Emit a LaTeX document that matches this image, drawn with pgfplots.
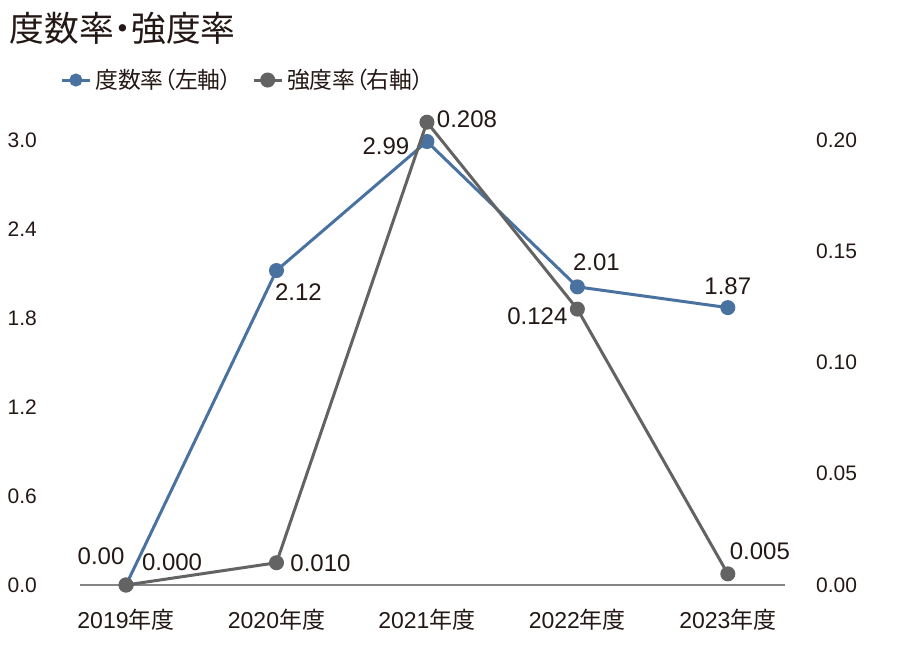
\documentclass[border=0pt]{standalone}
\usepackage{pgfplots}
\pgfplotsset{compat=1.18}
\usepackage{pgfplotstable}
\usepackage{fontspec}
\setmainfont{Liberation Sans}
\newfontfamily\jp{Noto Sans CJK JP}
\newfontfamily\jpp{Noto Sans CJK JP}[RawFeature=+palt]
\definecolor{cblue}{HTML}{4A72A0}
\definecolor{cgray}{HTML}{636363}
\definecolor{ctext}{HTML}{231815}
\definecolor{caxis}{HTML}{858585}

\pgfplotstableread{
x y lab dx dy
0 0.00 0.00 -12.5 14.5
1 2.12 2.12 11 -11
2 2.99 2.99 -20.5 -2.5
3 2.01 2.01 9.5 12.5
4 1.87 1.87 0 10.5
}\freq
\pgfplotstableread{
x y lab dx dy
0 0.000 0.000 23 11.5
1 0.010 0.010 22 0
2 0.208 0.208 20 1.5
3 0.124 0.124 -20 -3.5
4 0.005 0.005 16 11.5
}\sev

\pgfplotsset{
  base/.style={
    scale only axis, width=352.5pt, height=222.5pt,
    at={(40pt,32.5pt)}, anchor=south west,
    xmin=-0.306, xmax=4.38, clip=false,
    tick style={draw=none},
    ticklabel style={font=\fontsize{10.5}{12}\selectfont, text=ctext},
    /pgf/number format/assume math mode=true,
    point meta=explicit symbolic,
    nodes near coords,
    visualization depends on={\thisrow{dx}\as\dx},
    visualization depends on={\thisrow{dy}\as\dy},
    every node near coord/.append style={anchor=center, xshift=\dx pt, yshift=\dy pt,
      font=\fontsize{12}{14}\selectfont, text=ctext},
  },
}

\begin{document}
\begin{tikzpicture}
\useasboundingbox (0,0) rectangle (450pt,325pt);
\node[anchor=west, inner sep=0pt, text=ctext, font=\fontsize{17.4}{19}\selectfont] at (4.5pt,311pt) {\jpp 度数率・強度率};

\begin{axis}[base,
  ymin=0, ymax=3.0,
  separate axis lines,
  axis x line*=bottom, axis y line*=left,
  y axis line style={draw=none},
  x axis line style={draw=caxis, line width=1pt},
  xtick={0,1,2,3,4},
  xticklabels={2019{\jp 年度},2020{\jp 年度},2021{\jp 年度},2022{\jp 年度},2023{\jp 年度}},
  xticklabel style={anchor=center, yshift=-17.5pt, font=\fontsize{11.5}{13}\selectfont},
  ytick={0,0.6,1.2,1.8,2.4,3.0},
  yticklabel style={anchor=west, xshift=-39.7pt, /pgf/number format/.cd, fixed, fixed zerofill, precision=1},
]
\addplot[cblue, line width=1.5pt, mark=*, mark size=3pt] table[x=x, y=y, meta=lab] {\freq};
\end{axis}

\begin{axis}[base,
  ymin=0, ymax=0.20,
  axis x line=none,
  axis y line*=right,
  y axis line style={draw=none},
  ytick={0,0.05,0.10,0.15,0.20},
  yticklabel style={anchor=west, xshift=12pt, /pgf/number format/.cd, fixed, fixed zerofill, precision=2},
  legend columns=2,
  legend style={at={(-0.0284,1.1348)}, anchor=west, draw=none, fill=none, inner sep=0pt,
    font=\fontsize{11.4}{13}\selectfont\jpp, text=ctext,
    /tikz/every even column/.append style={column sep=8pt}},
  legend image code/.code={\draw[mark repeat=2, mark phase=2, #1] plot coordinates {(0pt,0pt) (7pt,0pt) (14pt,0pt)};},
]
\addlegendimage{cblue, line width=1.5pt, mark=*, mark size=2.5pt}
\addlegendentry{度数率（左軸）}
\addplot[cgray, line width=1.5pt, mark=*, mark size=3pt] table[x=x, y=y, meta=lab] {\sev};
\addlegendentry{強度率（右軸）}
\end{axis}
\end{tikzpicture}
\end{document}
